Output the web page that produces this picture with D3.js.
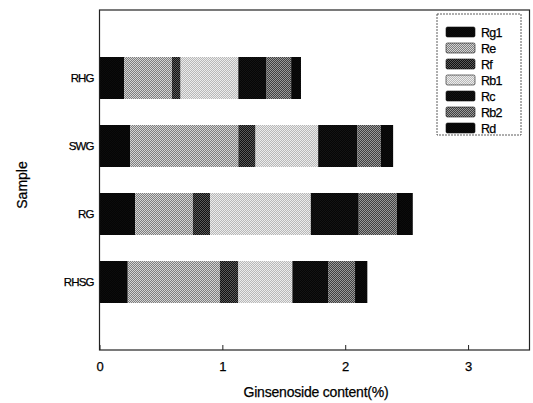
<!DOCTYPE html>
<html>
<head>
<meta charset="utf-8">
<script src="https://cdn.jsdelivr.net/npm/d3@7"></script>
<style>
    body { margin: 0; background: #fff; }
    text { font-family: "Liberation Sans", Arial, sans-serif; fill: #000; stroke: #000; stroke-width: 0.25px; }
</style>
</head>
<body>
<div class="chart"></div>
<script>

// data
const samples = ["RHG", "SWG", "RG", "RHSG"];
const ginsenosides = ["Rg1", "Re", "Rf", "Rb1", "Rc", "Rb2", "Rd"];
const rg1 = [0.20, 0.25, 0.29, 0.23];
const re  = [0.39, 0.88, 0.47, 0.75];
const rf  = [0.07, 0.14, 0.14, 0.15];
const rb1 = [0.47, 0.51, 0.82, 0.44];
const rc  = [0.23, 0.32, 0.39, 0.29];
const rb2 = [0.20, 0.19, 0.31, 0.22];
const rd  = [0.08, 0.10, 0.13, 0.10];
const x_ticks = [0, 1, 2, 3];

const series_values = [rg1, re, rf, rb1, rc, rb2, rd];

// constants
const width = 533;
const height = 403;
const plot_left = 99.5;
const plot_right = 529.5;
const plot_top = 10;
const plot_bottom = 350;

// table for the stack
let table = samples.map(function(s, i) {
    let row = { "sample": s };
    ginsenosides.forEach(function(g, j) {
        row[g] = series_values[j][i];
    });
    return row;
});

let svg = d3.select(".chart").append("svg")
    .attr("width", width)
    .attr("height", height);

// halftone-ish fills, like the scanned original
const fills = [
    { id: "p_rg1", a: "#050505", b: "#0c0c0c" },
    { id: "p_re",  a: "#7e7e7e", b: "#d4d4d4" },
    { id: "p_rf",  a: "#101010", b: "#5a5a5a" },
    { id: "p_rb1", a: "#b8b8b8", b: "#ececec" },
    { id: "p_rc",  a: "#060606", b: "#141414" },
    { id: "p_rb2", a: "#404040", b: "#9a9a9a" },
    { id: "p_rd",  a: "#050505", b: "#0c0c0c" }
];
let defs = svg.append("defs");
fills.forEach(function(f) {
    let p = defs.append("pattern")
        .attr("id", f.id)
        .attr("width", 2)
        .attr("height", 2)
        .attr("patternUnits", "userSpaceOnUse");
    p.append("rect").attr("width", 2).attr("height", 2).attr("fill", f.a);
    p.append("rect").attr("width", 1).attr("height", 1).attr("fill", f.b);
    p.append("rect").attr("x", 1).attr("y", 1).attr("width", 1).attr("height", 1).attr("fill", f.b);
});

// scales
const x_scale = d3.scaleLinear()
    .domain([0, 3.5])
    .range([plot_left, plot_right]);

const y_scale = d3.scalePoint()
    .domain(samples)
    .range([plot_top, plot_bottom])
    .padding(1);

const bar_height = 42;

// stacked bars
const stack = d3.stack().keys(ginsenosides);
const layers = stack(table);

svg.selectAll(".layer")
    .data(layers).enter()
    .append("g")
    .attr("class", "layer")
    .attr("fill", function(d, i) {
        return "url(#" + fills[i].id + ")";
    })
    .selectAll("rect")
    .data(function(d) { return d; }).enter()
    .append("rect")
    .attr("x", function(d) { return x_scale(d[0]); })
    .attr("width", function(d) { return x_scale(d[1]) - x_scale(d[0]); })
    .attr("y", function(d) { return y_scale(d.data.sample) - bar_height / 2; })
    .attr("height", bar_height);

// frame
svg.append("rect")
    .attr("x", plot_left)
    .attr("y", plot_top)
    .attr("width", plot_right - plot_left)
    .attr("height", plot_bottom - plot_top)
    .attr("fill", "none")
    .attr("stroke", "#222")
    .attr("stroke-width", 1.2);

// x axis
const x_axis = d3.axisBottom(x_scale)
    .tickValues(x_ticks)
    .tickSizeInner(-5)
    .tickSizeOuter(0)
    .tickPadding(12)
    .tickFormat(d3.format("d"));
let gx = svg.append("g")
    .attr("class", "x axis")
    .attr("transform", "translate(0, " + plot_bottom + ")")
    .call(x_axis);
gx.select(".domain").remove();
gx.selectAll("line").attr("stroke", "#222");
gx.selectAll("text")
    .style("font-size", "13px")
    .style("font-family", "'Liberation Sans', Arial, sans-serif")
    .attr("fill", "#000");

svg.append("text")
    .attr("text-anchor", "middle")
    .attr("x", 316)
    .attr("y", 397)
    .style("font-size", "14px")
    .style("letter-spacing", "-0.2px")
    .text("Ginsenoside content(%)");

// y axis
const y_axis = d3.axisLeft(y_scale)
    .tickSize(0)
    .tickPadding(6);
let gy = svg.append("g")
    .attr("class", "y axis")
    .attr("transform", "translate(" + plot_left + ", 0)")
    .call(y_axis);
gy.select(".domain").remove();
gy.selectAll("text")
    .style("font-size", "11.5px")
    .style("font-family", "'Liberation Sans', Arial, sans-serif")
    .style("letter-spacing", "-0.9px")
    .attr("fill", "#000");

svg.append("text")
    .attr("text-anchor", "middle")
    .attr("transform", "translate(27, 185) rotate(-90)")
    .style("font-size", "14px")
    .text("Sample");

// legend
let legend = svg.append("g").attr("class", "legend");
legend.append("rect")
    .attr("x", 437)
    .attr("y", 14)
    .attr("width", 84)
    .attr("height", 121)
    .attr("fill", "#fff")
    .attr("stroke", "#333")
    .attr("stroke-width", 0.8)
    .attr("stroke-dasharray", "2,1");

const legend_y = d3.scalePoint()
    .domain(ginsenosides)
    .range([32, 128]);

let items = legend.selectAll(".item")
    .data(ginsenosides).enter()
    .append("g")
    .attr("class", "item")
    .attr("transform", function(d) {
        return "translate(446, " + legend_y(d) + ")";
    });
items.append("rect")
    .attr("x", 0)
    .attr("y", -5)
    .attr("width", 29)
    .attr("height", 10)
    .attr("rx", 1.5)
    .attr("fill", function(d, i) { return "url(#" + fills[i].id + ")"; })
    .attr("stroke", "#111")
    .attr("stroke-width", 0.6);
items.append("text")
    .attr("x", 35)
    .attr("y", 4.5)
    .style("font-size", "12.5px")
    .style("letter-spacing", "-0.7px")
    .text(function(d) { return d; });

</script>
</body>
</html>
